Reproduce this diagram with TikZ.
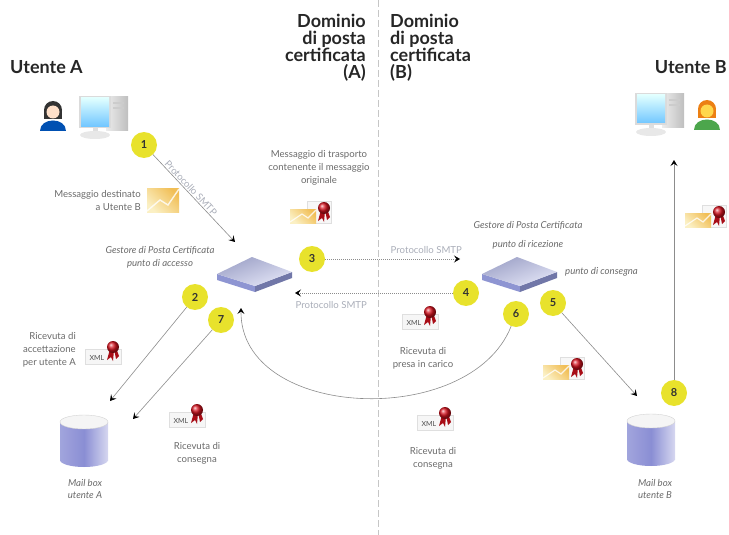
\documentclass[tikz,border=0pt]{standalone}
\usepackage{fontspec}
\setmainfont{Lato}
\usetikzlibrary{arrows.meta,positioning,calc}

\definecolor{numyellow}{HTML}{E8E22C}
\definecolor{linegray}{HTML}{8C8C8C}
\definecolor{txtgray}{HTML}{6A6A6A}
\definecolor{smtpgray}{HTML}{A9ADB8}
\definecolor{sealred}{HTML}{D8121E}
\definecolor{sealdark}{HTML}{A80C16}
\definecolor{envorange}{HTML}{F1BE55}
\definecolor{envpale}{HTML}{FBF0C4}
\definecolor{boxtop}{HTML}{B9BEEA}
\definecolor{boxside}{HTML}{8E95D2}
\definecolor{cylblue}{HTML}{8A8ED4}

% red seal with two ribbons
\newcommand{\sealmark}[1]{%
  \begin{scope}[shift={(#1)}]
    \fill[sealdark] (-3,2) -- (-6,13) -- (-2,10) -- (0,14) -- (1,3) -- cycle;
    \fill[sealdark] (1,2) -- (3,12) -- (6,9) -- (3,1) -- cycle;
    \shade[ball color=sealred] (0,0) circle (6pt);
  \end{scope}}

% plain envelope
\newcommand{\envmark}[1]{%
  \begin{scope}[shift={(#1)}]
    \shade[left color=envorange, right color=envpale, shading angle=-45] (-16,-12) rectangle (16,12);
    \draw[white, line width=1.4pt, opacity=.8] (-16,11) -- (-3,0) -- (5,5) -- (16,-11);
  \end{scope}}

% envelope with certificate and seal
\newcommand{\certmark}[1]{%
  \begin{scope}[shift={(#1)}]
    \fill[gray!6] (-4,-10) rectangle (20,12);
    \draw[gray!25] (-4,-10) rectangle (20,12);
    \shade[left color=envorange, right color=envpale, shading angle=-45] (-21,-2) rectangle (5,12);
    \draw[white, line width=1.2pt, opacity=.8] (-21,11) -- (-9,3) -- (-3,7) -- (5,-1);
    \sealmark{13,-3}
  \end{scope}}

% certificate receipt
\newcommand{\xmlmark}[1]{%
  \begin{scope}[shift={(#1)}]
    \fill[gray!7] (-18,-6) rectangle (18,9);
    \draw[gray!25] (-18,-6) rectangle (18,9);
    \node[font=\fontsize{7}{7}\selectfont, text=black!70, inner sep=0pt] at (-6,3) {XML};
    \sealmark{10,-8}
  \end{scope}}

% flat server box
\newcommand{\servermark}[1]{%
  \begin{scope}[shift={(#1)}]
    \fill[boxside] (-38,2) -- (0,14) -- (0,20) -- (-38,8) -- cycle;
    \fill[boxside!80!black] (0,14) -- (37,0) -- (37,6) -- (0,20) -- cycle;
    \shade[left color=boxtop!85!black, right color=boxtop!40!white, shading angle=20]
      (-38,2) -- (-3,-15) -- (37,0) -- (0,14) -- cycle;
  \end{scope}}

% mailbox cylinder
\newcommand{\boxmark}[1]{%
  \begin{scope}[shift={(#1)}]
    \shade[left color=cylblue!80, right color=cylblue!35!white, middle color=cylblue] (0,19) circle[x radius=24pt, y radius=7pt];
    \shade[left color=cylblue!80, right color=cylblue!35!white, middle color=cylblue] (-24,-19) rectangle (24,19);
    \fill[gray!8] (0,-19) circle[x radius=24pt, y radius=7pt];
    \draw[gray!35] (0,-19) circle[x radius=24pt, y radius=7pt];
  \end{scope}}

% desktop computer
\newcommand{\pcmark}[1]{%
  \begin{scope}[shift={(#1)}]
    \shade[left color=gray!15, right color=gray!50] (2,-19) rectangle (24,14);
    \fill[gray!40] (9,-14) rectangle (20,-12);
    \fill[gray!40] (9,-9) rectangle (20,-7);
    \fill[gray!25] (-11,10) rectangle (-6,16);
    \fill[gray!18] (-9,19) circle[x radius=15pt, y radius=4pt];
    \fill[gray!28] (-25,-20) rectangle (7,12);
    \shade[top color=cyan!12, bottom color=blue!40!cyan!55] (-23,-18) rectangle (5,10);
  \end{scope}}

% user figure: position, face, hair, shirt
\newcommand{\usermark}[4]{%
  \begin{scope}[shift={(#1)}]
    \fill[#4] (-13,17) .. controls (-13,3) and (13,3) .. (13,17) -- cycle;
    \fill[#3] (0,-4) circle (9pt);
    \fill[#3] (-9,-4) rectangle (9,5);
    \fill[#2] (0,-2) circle (6.5pt);
  \end{scope}}

\begin{document}
\begin{tikzpicture}[x=1pt,y=-1pt,
  num/.style={circle,fill=numyellow,minimum size=26pt,inner sep=0pt,font=\fontsize{11}{11}\selectfont\bfseries,text=black!80},
  flow/.style={draw=linegray,line width=0.6pt,-{Stealth[length=6pt,width=7pt,inset=2.5pt,color=black]}},
  smtp/.style={draw=linegray,line width=0.6pt,dash pattern=on 1pt off 1pt,-{Stealth[length=6pt,width=7pt,inset=2.5pt,color=black]}},
  title/.style={font=\fontsize{18}{17}\selectfont\bfseries,text=black!85,inner sep=0pt},
  lbl/.style={font=\fontsize{9.6}{13}\selectfont,text=txtgray,align=center,inner sep=0pt},
  glbl/.style={lbl,font=\fontsize{9.6}{13}\selectfont\itshape},
  smtplbl/.style={font=\fontsize{9.6}{11}\selectfont,text=smtpgray,inner sep=1pt},
  divider/.style={draw=gray!45,line width=0.6pt,dash pattern=on 7pt off 3pt}]
\useasboundingbox (0,0) rectangle (729,535);

% domains
\draw[divider] (378,0) -- (378,535);
\node[title, anchor=base west] (userA) at (10,74) {Utente A};
\node[title, anchor=base east] (userB) at (727,74) {Utente B};
\node[title, align=right, anchor=north east] (domA) at (366,14) {Dominio\\di posta\\certificata\\(A)};
\node[title, align=left, anchor=north west] (domB) at (390,14) {Dominio\\di posta\\certificata\\(B)};

% icons
\pcmark{104,116}
\usermark{53,114}{pink!40!orange!30}{black!80}{blue!55!cyan!70!black}
\pcmark{660,113}
\usermark{707,113}{orange!45!yellow!70}{orange!70!brown}{green!50!black!70}
\envmark{163,200}
\certmark{311,211}
\certmark{706,215}
\certmark{564,367}
\servermark{255,272}
\servermark{520,272}
\xmlmark{103,355}
\xmlmark{187,418}
\xmlmark{420,320}
\xmlmark{435,421}
\boxmark{84,441}
\boxmark{651,440}

% labels
\node[lbl, align=right, anchor=east] (msgA) at (141,201) {Messaggio destinato\\a Utente B};
\node[lbl] (msgT) at (319,168) {Messaggio di trasporto\\contenente il messaggio\\originale};
\node[glbl] (gpcA) at (160,257) {Gestore di Posta Certificata\\punto di accesso};
\node[glbl] (gpcB) at (528,226) {Gestore di Posta Certificata};
\node[glbl] (ricB) at (528,245) {punto di ricezione};
\node[glbl, anchor=west] (conB) at (565,272) {punto di consegna};
\node[lbl, align=right, anchor=east] (accA) at (76,350) {Ricevuta di\\accettazione\\per utente A};
\node[lbl] (consA) at (197,453) {Ricevuta di\\consegna};
\node[lbl] (presa) at (423,358) {Ricevuta di\\presa in carico};
\node[lbl] (consB) at (433,458) {Ricevuta di\\consegna};
\node[glbl] (mbA) at (85,489) {Mail box\\utente A};
\node[glbl] (mbB) at (655,489) {Mail box\\utente B};

% steps
\node[num] (c1) at (144,145) {1};
\node[num] (c2) at (195,297) {2};
\node[num] (c3) at (312,259) {3};
\node[num] (c4) at (466,293) {4};
\node[num] (c5) at (553,303) {5};
\node[num] (c6) at (516,314) {6};
\node[num] (c7) at (221,320) {7};
\node[num] (c8) at (674,393) {8};

\coordinate (a1) at (235,242);
\coordinate (a2) at (110,401);
\coordinate (a3) at (460,259);
\coordinate (a4) at (295,293);
\coordinate (a5) at (637,396);
\coordinate (a6) at (241,308);
\coordinate (a7) at (133,419);
\coordinate (a8) at (674,160);

\draw[flow] (c1) -- node[smtplbl, sloped, above, pos=0.42] {Protocollo SMTP} (a1);
\draw[flow] (c2) -- (a2);
\draw[smtp] (c3) -- node[smtplbl, above=4pt, pos=0.75] {Protocollo SMTP} (a3);
\draw[smtp] (c4) -- node[smtplbl, below=7pt, pos=0.77] {Protocollo SMTP} (a4);
\draw[flow] (c5) -- (a5);
\draw[flow] (c6) .. controls (470,430) and (240,420) .. (a6);
\draw[flow] (c7) -- (a7);
\draw[flow] (c8) -- (a8);
\end{tikzpicture}
\end{document}
